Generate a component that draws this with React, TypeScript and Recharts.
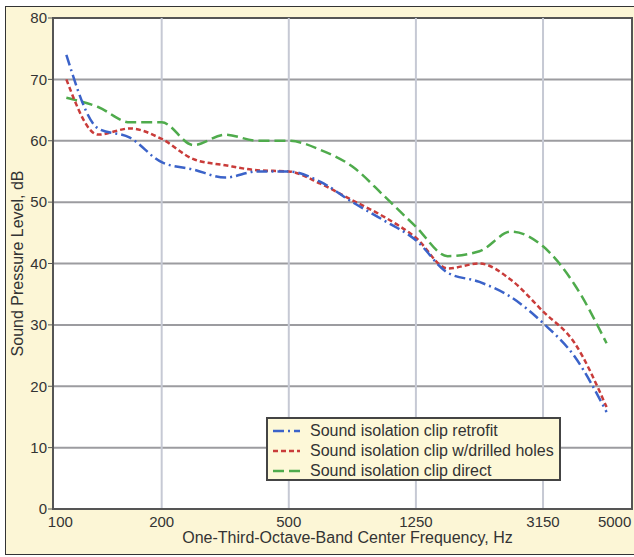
import React from 'react';
import { LineChart, Line, XAxis, YAxis, CartesianGrid, ReferenceLine, ReferenceArea } from 'recharts';

// one-third-octave band centres, Hz
const bands = [100, 125, 160, 200, 250, 315, 400, 500, 630, 800, 1000, 1250, 1600, 2000, 2500, 3150, 4000, 5000];
const labelledBands = [100, 200, 500, 1250, 3150, 5000];
const gridBands = [200, 500, 1250, 3150];
const yTicks = [0, 10, 20, 30, 40, 50, 60, 70, 80];

const retrofit = [74, 62, 60.5, 56.5, 55.3, 54, 55, 55, 53.3, 50, 47, 43.8, 38.5, 37, 34.5, 30.3, 24.8, 15.8];
const drilled = [70, 61, 62, 60.3, 57, 56, 55.2, 55, 53, 50.3, 47.6, 44.2, 39.2, 40, 37.3, 32.2, 27, 16.6];
const direct = [67, 65.5, 63, 63, 59.3, 61, 60, 60, 58.5, 55.8, 51, 46, 41.2, 42, 45.2, 42.8, 36.5, 27];

const seriesNames = [
  'Sound isolation clip retrofit',
  'Sound isolation clip w/drilled holes',
  'Sound isolation clip direct',
];
const seriesColors = ['#3b63c9', '#c93c3a', '#4fab4c'];
const seriesDash = ['11 4 2 4', '5 3', '11 5'];

const data = bands.map((b, i) => ({
  idx: i,
  band: b,
  retrofit: retrofit[i],
  drilled: drilled[i],
  direct: direct[i],
}));

const xMin = -0.42;
const xMax = 17.8;
const font = '"Liberation Sans", Arial, sans-serif';

const XTick = (props: any) => {
  const { x, y, payload } = props;
  const label = bands[payload.value];
  let dx = 0;
  if (payload.value === 0) dx = -6;
  if (payload.value === bands.length - 1) dx = 8;
  return (
    <text x={x + dx} y={y + 10} textAnchor="middle" fontSize={15} fill="#333" fontFamily={font}>
      {label}
    </text>
  );
};

const LegendBox = () => (
  <div
    style={{
      position: 'absolute',
      left: 266,
      top: 417,
      background: '#fdf8d8',
      border: '2px solid #444',
      width: 295,
      height: 64,
      boxSizing: 'border-box',
      padding: '2px 0 0 5px',
      fontFamily: font,
      fontSize: 16,
      color: '#333',
    }}
  >
    {seriesNames.map((n, i) => (
      <div key={n} style={{ display: 'flex', alignItems: 'center', height: 20 }}>
        <svg width={27} height={10} style={{ marginRight: 10 }}>
          <line x1={0} y1={5} x2={27} y2={5} stroke={seriesColors[i]} strokeWidth={2.5} strokeDasharray={seriesDash[i]} />
        </svg>
        <span>{n}</span>
      </div>
    ))}
  </div>
);

export default function App() {
  return (
    <div style={{ position: 'absolute', left: 0, top: 0, width: 634, height: 557, overflow: 'hidden', background: '#fff' }}>
      <div
        style={{
          position: 'absolute',
          left: 5,
          top: 6,
          width: 640,
          height: 549,
          background: '#fcf6d6',
          border: '1.5px solid #333',
          boxSizing: 'border-box',
        }}
      />
      <div style={{ position: 'absolute', left: 0, top: 0 }}>
        <LineChart width={634} height={557} data={data} margin={{ top: 18, right: 2, bottom: 0, left: 0 }}>
          <CartesianGrid vertical={false} stroke="#9c9ca0" strokeWidth={2} fill="#fff" fillOpacity={1} />
          {gridBands.map((b) => (
            <ReferenceLine key={b} x={bands.indexOf(b)} stroke="#c6c9d4" strokeWidth={2} />
          ))}
          <XAxis
            dataKey="idx"
            type="number"
            domain={[xMin, xMax]}
            ticks={labelledBands.map((b) => bands.indexOf(b))}
            tick={<XTick />}
            tickLine={false}
            axisLine={{ stroke: '#555', strokeWidth: 2 }}
            height={48}
            label={{ value: 'One-Third-Octave-Band Center Frequency, Hz', position: 'insideBottom', offset: 14, fill: '#333', fontSize: 16, fontFamily: font, dx: 5 }}
          />
          <YAxis
            type="number"
            domain={[0, 80]}
            ticks={yTicks}
            width={53}
            tickSize={5}
            tickMargin={1}
            tickLine={{ stroke: '#555' }}
            axisLine={{ stroke: '#555', strokeWidth: 2 }}
            tick={{ fill: '#333', fontSize: 15, fontFamily: font }}
            label={{ value: 'Sound Pressure Level, dB', angle: -90, position: 'insideLeft', offset: 17, fill: '#333', fontSize: 16, fontFamily: font, style: { textAnchor: 'middle' } }}
          />
          <Line dataKey="direct" type="monotone" stroke={seriesColors[2]} strokeWidth={2.5} strokeDasharray={seriesDash[2]} dot={false} isAnimationActive={false} />
          <Line dataKey="drilled" type="monotone" stroke={seriesColors[1]} strokeWidth={2.5} strokeDasharray={seriesDash[1]} dot={false} isAnimationActive={false} />
          <Line dataKey="retrofit" type="monotone" stroke={seriesColors[0]} strokeWidth={2.5} strokeDasharray={seriesDash[0]} dot={false} isAnimationActive={false} />
          <ReferenceArea x1={xMin} x2={xMax} y1={0} y2={80} fill="none" stroke="#555" strokeWidth={2} />
        </LineChart>
      </div>
      <LegendBox />
    </div>
  );
}
